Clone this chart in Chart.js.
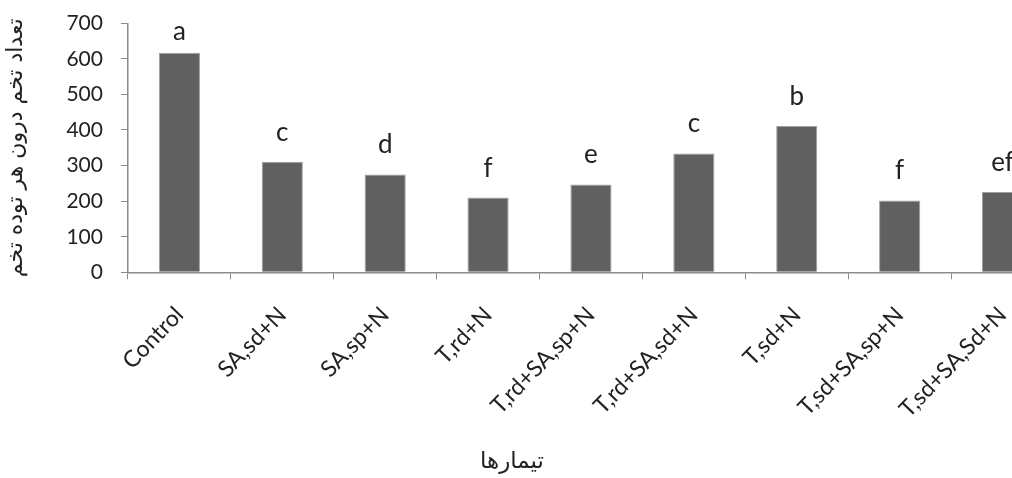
<!DOCTYPE html>
<html>
<head>
<meta charset="utf-8">
<script src="https://cdn.jsdelivr.net/npm/chart.js@4"></script>
<style>
  body { margin: 0; background: #fff; overflow: hidden; }
  #wrap { width: 1054px; height: 478px; }
</style>
</head>
<body>
<div id="wrap"><canvas id="chartBar"></canvas></div>
<script>
const categories = ["Control", "SA,sd+N", "SA,sp+N", "T,rd+N", "T,rd+SA,sp+N", "T,rd+SA,sd+N", "T,sd+N", "T,sd+SA,sp+N", "T,sd+SA,Sd+N"];
const eggCounts = [617, 311, 275, 210, 247, 334, 411, 202, 226];
const groupLetters = ["a", "c", "d", "f", "e", "c", "b", "f", "ef"];

const yTitle = "تعداد تخم درون هر توده تخم";
const xTitle = "تیمارها";

const fontFamily = "Lato, 'DejaVu Sans', sans-serif";
const axisColor = "#8a8a8a";

// letras de significancia encima de cada barra + título del eje x
const letterPlugin = {
  id: "letters",
  afterDatasetsDraw(chart) {
    const ctx = chart.ctx;
    const meta = chart.getDatasetMeta(0);
    ctx.save();
    ctx.fillStyle = "#222";
    ctx.font = "26px " + fontFamily;
    ctx.textAlign = "center";
    ctx.textBaseline = "alphabetic";
    meta.data.forEach((bar, i) => {
      const y = Math.max(bar.y - 21, chart.chartArea.top + 17);
      ctx.fillText(groupLetters[i], bar.x, y);
    });
    ctx.font = "23px 'DejaVu Sans', sans-serif";
    ctx.textBaseline = "middle";
    ctx.fillText(xTitle, 512, 462);
    ctx.restore();
  }
};

const ctxBar = document.getElementById("chartBar").getContext("2d");
new Chart(ctxBar, {
  type: "bar",
  data: {
    labels: categories,
    datasets: [{
      data: eggCounts,
      backgroundColor: "#606060",
      borderColor: "#a0a0a0",
      borderWidth: 1,
      barPercentage: 0.4,
      categoryPercentage: 1
    }]
  },
  options: {
    responsive: true,
    maintainAspectRatio: false,
    animation: false,
    layout: { padding: { top: 22, left: 3, right: 0, bottom: 33 } },
    plugins: {
      legend: { display: false },
      tooltip: { enabled: false }
    },
    scales: {
      x: {
        grid: { display: true, drawOnChartArea: false, drawTicks: true, tickLength: 7, color: axisColor, offset: true },
        border: { color: axisColor, width: 1.5 },
        ticks: {
          color: "#222",
          font: { size: 23, family: fontFamily },
          maxRotation: 46,
          minRotation: 46,
          padding: 22
        }
      },
      y: {
        min: 0,
        max: 700,
        grid: { display: true, drawOnChartArea: false, drawTicks: true, tickLength: 7, color: axisColor },
        border: { color: axisColor, width: 1.5 },
        ticks: {
          stepSize: 100,
          color: "#222",
          font: { size: 21, family: fontFamily, lineHeight: 0.5 },
          padding: 18
        },
        title: {
          display: true,
          text: yTitle,
          color: "#222",
          font: { size: 22, family: "'DejaVu Sans', sans-serif" },
          padding: { top: 0, bottom: 19 }
        }
      }
    }
  },
  plugins: [letterPlugin]
});
</script>
</body>
</html>
